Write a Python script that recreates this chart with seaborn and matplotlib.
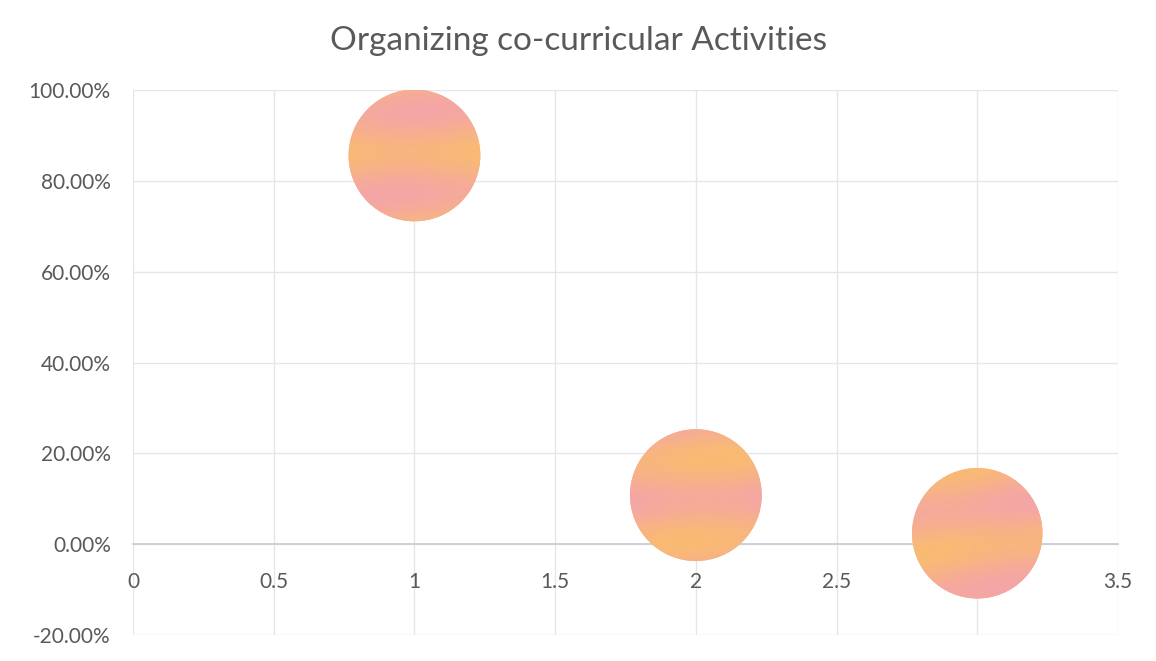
import numpy as np
import pandas as pd
import matplotlib
matplotlib.use("Agg")
import matplotlib.pyplot as plt
import matplotlib.transforms as mtransforms
from matplotlib.path import Path
from matplotlib.ticker import PercentFormatter, FuncFormatter
import seaborn as sns

# Chart data
activity_rank = [1, 2, 3]
response_share = [0.856, 0.108, 0.024]
bubble_size = [1.0, 1.0, 0.98]

x_ticks = [0, 0.5, 1, 1.5, 2, 2.5, 3, 3.5]
y_ticks = [-0.2, 0.0, 0.2, 0.4, 0.6, 0.8, 1.0]

title_text = "Organizing co-curricular Activities"

df = pd.DataFrame({"rank": activity_rank, "share": response_share, "size": bubble_size})

sns.set_style("white")
plt.rcParams["font.family"] = ["Lato", "DejaVu Sans"]
plt.rcParams["axes.unicode_minus"] = False

TEXT = "#595959"
GRID = "#e6e6ea"
PINK = np.array([0xF4, 0xA3, 0xAC]) / 255.0
ORANGE = np.array([0xF9, 0xBB, 0x72]) / 255.0

fig = plt.figure(figsize=(11.56, 6.61), dpi=100)
ax = fig.add_axes([0.1151, 0.0393, 0.852, 0.8245])

BASE_AREA = 9000.0  # marker area in pt^2
sns.scatterplot(data=df, x="rank", y="share", s=df["size"].to_numpy() * BASE_AREA,
                color="#F7AE90", edgecolor="none", linewidth=0, legend=False,
                ax=ax, zorder=3)

ax.set_xlim(x_ticks[0], x_ticks[-1])
ax.set_ylim(y_ticks[0], y_ticks[-1])
ax.set_xticks(x_ticks)
ax.set_yticks(y_ticks)
ax.xaxis.set_major_formatter(FuncFormatter(lambda v, p: f"{v:g}"))
ax.yaxis.set_major_formatter(PercentFormatter(1.0, decimals=2))

ax.grid(True, color=GRID, linewidth=1.0, zorder=0)
for side in ["top", "right", "left"]:
    ax.spines[side].set_visible(False)
ax.spines["bottom"].set_position(("data", 0))
ax.spines["bottom"].set_color("#cbc8d8")
ax.spines["bottom"].set_linewidth(1.2)
ax.spines["bottom"].set_zorder(2)
ax.tick_params(axis="both", length=0, labelsize=15, labelcolor=TEXT)
ax.tick_params(axis="x", pad=20)
ax.tick_params(axis="y", pad=16)
ax.set_xlabel("")
ax.set_ylabel("")

fig.text(0.5, 0.938, title_text, ha="center", va="center", fontsize=24, color=TEXT)

# Banded pink/orange fill clipped to each bubble
coll = ax.collections[0]
unit_circle = Path.unit_circle()
phases = [0.15, 0.55, 0.85]
tilts = [0.05, 0.08, 0.25]
n = 200
yy, xx = np.mgrid[0:1:n * 1j, 0:1:n * 1j]
for (cx, cy), sz, ph, tl in zip(coll.get_offsets(), bubble_size, phases, tilts):
    r_pt = np.sqrt(sz * BASE_AREA) / 2.0
    wave = np.sin(2 * np.pi * (2.2 * yy + tl * xx + ph))
    wave2 = 0.35 * np.sin(2 * np.pi * (0.9 * xx + 0.4 * yy + ph))
    t = np.clip(0.55 + 0.45 * (wave + wave2) / 1.35, 0, 1)
    img = PINK[None, None, :] * (1 - t[..., None]) + ORANGE[None, None, :] * t[..., None]
    im = ax.imshow(img, extent=(cx - 0.3, cx + 0.3, cy - 0.2, cy + 0.2), origin="upper",
                   aspect="auto", interpolation="bilinear", zorder=4)
    clip_tr = (mtransforms.Affine2D().scale(r_pt / 72.0) + fig.dpi_scale_trans
               + mtransforms.ScaledTranslation(cx, cy, ax.transData))
    im.set_clip_path(unit_circle, clip_tr)

ax.set_xlim(x_ticks[0], x_ticks[-1])
ax.set_ylim(y_ticks[0], y_ticks[-1])

fig.savefig("out.png", dpi=100)
